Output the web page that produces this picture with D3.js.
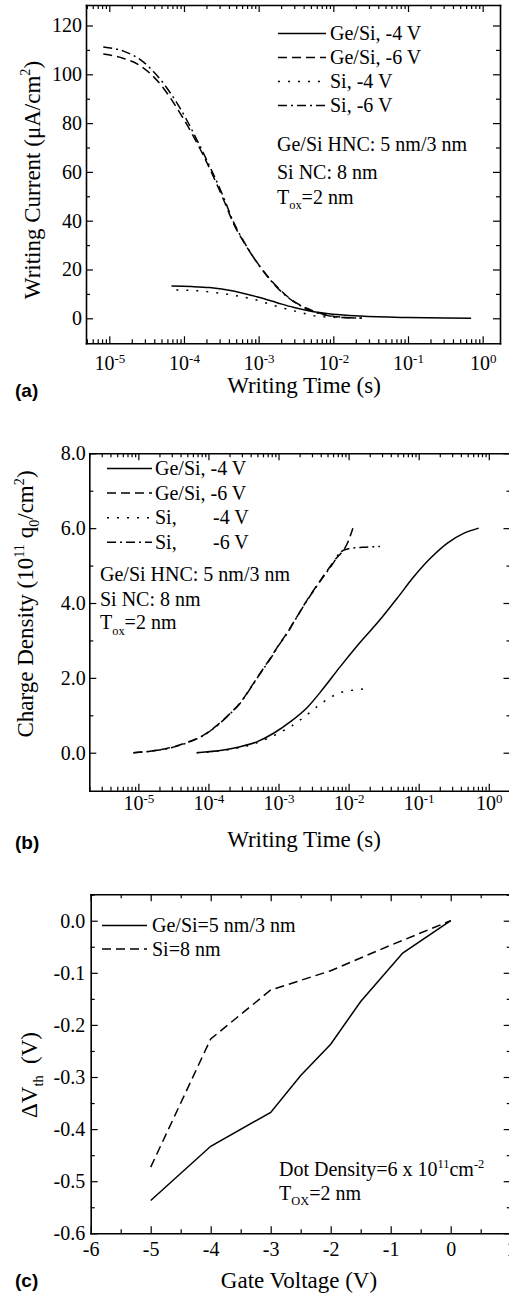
<!DOCTYPE html>
<html>
<head>
<meta charset="utf-8">
<script src="https://cdn.jsdelivr.net/npm/d3@7"></script>
<style>
body { margin: 0; background: #fff; }
svg text { font-family: "Liberation Serif", "Times New Roman", serif; fill: #000; white-space: pre; }
svg text.tag { font-family: "Liberation Sans", Arial, sans-serif; font-weight: bold; }
</style>
</head>
<body>
<script>
// ---- (a) writing current vs writing time
var aTimeGeSi4 = [6.8e-5, 1.25e-4, 2.2e-4, 4.6e-4, 1e-3, 1.8e-3, 2.9e-3, 5e-3, 8.1e-3, 2.3e-2, 1e-1, 3.2e-1, 7e-1];
var aCurGeSi4 = [13.2, 13.0, 12.6, 11.2, 8.6, 6.3, 4.5, 2.9, 2.0, 0.9, 0.3, 0.1, 0.05];
var aTimeSi4 = [7.9e-5, 1.8e-4, 3.9e-4, 8.5e-4, 1.8e-3, 4.1e-3, 5.9e-3, 1e-2, 1.5e-2];
var aCurSi4 = [11.6, 11.1, 9.8, 7.8, 4.8, 2.0, 0.9, 0.4, 0.3];
var aTime6 = [8.3e-6, 1.55e-5, 2.6e-5, 4.8e-5, 8.9e-5, 1.8e-4, 3.4e-4, 4.6e-4, 6.9e-4, 1.05e-3, 1.6e-3, 2.6e-3, 4.4e-3, 8.1e-3, 1.35e-2, 2.4e-2];
var aCurGeSi6 = [108.3, 106.5, 103.5, 96, 84, 67, 48.5, 38.9, 29.3, 21.1, 14.3, 8.2, 4.1, 1.4, 0.4, 0.1];
var aCurSi6 = [111.2, 109.5, 106, 98, 86, 68, 49.5, 39.5, 29.5, 21.0, 14.0, 8.0, 3.8, 1.2, 0.3, 0.1];
var aYMajor = [0, 20, 40, 60, 80, 100, 120];
var aYMinor = [10, 30, 50, 70, 90, 110];

// ---- (b) charge density vs writing time
var bTimeGeSi4 = [6.8e-5, 1.64e-4, 2.84e-4, 4.9e-4, 8.5e-4, 1.48e-3, 2.57e-3, 4.37e-3, 7.6e-3, 1.32e-2, 2.8e-2, 4.9e-2, 8.5e-2, 1.48e-1, 2.57e-1, 4.37e-1, 7.2e-1];
var bChgGeSi4 = [0, 0.07, 0.16, 0.29, 0.52, 0.83, 1.21, 1.72, 2.3, 2.85, 3.55, 4.12, 4.7, 5.2, 5.6, 5.86, 6.0];
var bTimeSi4 = [6.8e-5, 1.64e-4, 2.84e-4, 4.4e-4, 6.8e-4, 1e-3, 1.55e-3, 2.34e-3, 3.55e-3, 5.4e-3, 8.1e-3, 1.26e-2, 1.9e-2];
var bChgSi4 = [0, 0.06, 0.14, 0.23, 0.37, 0.52, 0.72, 0.96, 1.23, 1.47, 1.62, 1.68, 1.71];
var bTimeGeSi6 = [8.5e-6, 1.48e-5, 2.6e-5, 4.9e-5, 8.5e-5, 1.17e-4, 2.04e-4, 2.8e-4, 4.2e-4, 5.5e-4, 7.6e-4, 1e-3, 1.32e-3, 1.62e-3, 2.5e-3, 4e-3, 6.2e-3, 1e-2, 1.15e-2];
var bChgGeSi6 = [0, 0.04, 0.12, 0.27, 0.47, 0.65, 1.05, 1.32, 1.8, 2.13, 2.52, 2.87, 3.2, 3.47, 4.05, 4.62, 5.12, 5.67, 6.0];
var bTimeSi6 = [8.5e-6, 1.48e-5, 2.6e-5, 4.9e-5, 8.5e-5, 1.17e-4, 2.04e-4, 2.8e-4, 4.2e-4, 5.5e-4, 7.6e-4, 1e-3, 1.32e-3, 1.62e-3, 2.5e-3, 4e-3, 6.2e-3, 7.6e-3, 1e-2, 1.6e-2, 2.8e-2];
var bChgSi6 = [0, 0.04, 0.11, 0.26, 0.46, 0.64, 1.04, 1.31, 1.79, 2.12, 2.5, 2.86, 3.18, 3.46, 4.04, 4.6, 5.1, 5.36, 5.45, 5.49, 5.51];
var bYMajor = [0, 2, 4, 6, 8];
var bYMinor = [1, 3, 5, 7];

// ---- (c) threshold shift vs gate voltage
var cVoltGeSi = [-5, -4, -3, -2.5, -2, -1.5, -0.8, 0];
var cShiftGeSi = [-0.537, -0.433, -0.368, -0.297, -0.237, -0.155, -0.062, 0];
var cVoltSi = [-5, -4, -3, -2, -1, 0];
var cShiftSi = [-0.473, -0.227, -0.133, -0.096, -0.047, 0];
var cXMajor = [-6, -5, -4, -3, -2, -1, 0, 1];
var cXMinor = [-5.5, -4.5, -3.5, -2.5, -1.5, -0.5, 0.5];
var cYMajor = [0, -0.1, -0.2, -0.3, -0.4, -0.5, -0.6];
var cYMinor = [0.05, -0.05, -0.15, -0.25, -0.35, -0.45, -0.55];

var timeMajor = [1e-5, 1e-4, 1e-3, 1e-2, 1e-1, 1];

// line styles
var dashes = { solid: null, dash: "9,5", dot: "2,8", dashdot: "9,4,2,4" };

var svg = d3.select("body").append("svg")
	.attr("width", 509)
	.attr("height", 1294);
svg.append("rect").attr("width", 509).attr("height", 1294).attr("fill", "#fff");

function logMinor(x) {
	var d = x.domain(), out = [];
	for (var e = -7; e <= 1; e++) {
		for (var m = 2; m <= 9; m++) {
			var v = m * Math.pow(10, e);
			if (v > d[0] && v < d[1]) out.push(v);
		}
	}
	return out;
}

function minus(s) { return String(s).replace("\u2212", "-"); }

// draw a 4-sided frame with inward ticks
function frame(x, y, o) {
	var xr = x.range(), yr = y.range();
	var sides = [
		[d3.axisBottom(x), "translate(0," + yr[0] + ")", o.xMajor, o.xMinor, o.xFmt, o.xPad],
		[d3.axisTop(x), "translate(0," + yr[1] + ")", o.xMajor, o.xMinor, null],
		[d3.axisLeft(y), "translate(" + xr[0] + ",0)", o.yMajor, o.yMinor, o.yFmt, o.yPad],
		[d3.axisRight(y), "translate(" + xr[1] + ",0)", o.yMajor, o.yMinor, null]
	];
	var labelled = [];
	sides.forEach(function (s) {
		var gMin = svg.append("g").attr("transform", s[1])
			.call(s[0].tickValues(s[3]).tickSize(-4).tickSizeOuter(0).tickFormat(""));
		gMin.selectAll("line").attr("stroke-width", 1.2);
		gMin.select(".domain").remove();
		var gen = s[0].tickValues(s[2]).tickSize(-7).tickSizeOuter(0)
			.tickFormat(s[4] || "").tickPadding(s[5] || 3);
		var g = svg.append("g").attr("transform", s[1]).call(gen);
		g.attr("font-family", null).attr("font-size", 20);
		g.selectAll("line").attr("stroke-width", 1.2);
		g.select(".domain").attr("stroke-width", 1.6).attr("stroke-linecap", "square");
		labelled.push(g);
	});
	return labelled;
}

function powLabels(g) {
	g.selectAll(".tick text").each(function (d) {
		d3.select(this).append("tspan")
			.attr("dy", "-0.55em")
			.attr("font-size", 13)
			.text(minus(Math.round(Math.log10(d))));
	});
}

// text with sub/superscripts: parts = [[string, "sup"|"sub"|null], ...]
function rich(t, parts, size) {
	var cur = 0;
	parts.forEach(function (p) {
		var target = p[1] === "sup" ? -size * 0.4 : p[1] === "sub" ? size * 0.28 : 0;
		var ts = t.append("tspan").attr("dy", target - cur).text(p[0]);
		if (p[1]) ts.attr("font-size", size * 0.62);
		cur = target;
	});
	return t;
}

function txt(x, y, size) {
	return svg.append("text").attr("x", x).attr("y", y).attr("font-size", size);
}

function curve(x, y, xs, ys, style, smooth) {
	var pts = xs.map(function (v, i) { return [v, ys[i]]; });
	var line = d3.line()
		.x(function (d) { return x(d[0]); })
		.y(function (d) { return y(d[1]); })
		.curve(smooth ? d3.curveMonotoneX : d3.curveLinear);
	svg.append("path")
		.attr("d", line(pts))
		.attr("fill", "none")
		.attr("stroke", "#000")
		.attr("stroke-width", 1.5)
		.attr("stroke-dasharray", dashes[style]);
}

function legendRow(x0, x1, yLine, style) {
	svg.append("line")
		.attr("x1", x0).attr("x2", x1).attr("y1", yLine).attr("y2", yLine)
		.attr("stroke", "#000").attr("stroke-width", 1.5)
		.attr("stroke-dasharray", dashes[style]);
}

function yTitle(cx, cy, parts, size) {
	var t = svg.append("text")
		.attr("transform", "translate(" + cx + "," + cy + ") rotate(-90)")
		.attr("text-anchor", "middle")
		.attr("font-size", size);
	rich(t, parts, size);
}

/* ================= panel (a) ================= */
var xa = d3.scaleLog().domain([Math.pow(10, -5.312), Math.pow(10, 0.232)]).range([86, 500]);
var ya = d3.scaleLinear().domain([-10.25, 128.4]).range([343.3, 5]);
var fa = frame(xa, ya, {
	xMajor: timeMajor, xMinor: logMinor(xa), xFmt: function () { return "10"; }, xPad: 13,
	yMajor: aYMajor, yMinor: aYMinor, yFmt: d3.format("d"), yPad: 4
});
powLabels(fa[0]);

curve(xa, ya, aTime6, aCurGeSi6, "dash", true);
curve(xa, ya, aTime6, aCurSi6, "dashdot", true);
curve(xa, ya, aTimeGeSi4, aCurGeSi4, "solid", true);
curve(xa, ya, aTimeSi4, aCurSi4, "dot", true);

var aLegend = ["Ge/Si, -4 V", "Ge/Si, -6 V", "Si, -4 V", "Si, -6 V"];
var legendStyles = ["solid", "dash", "dot", "dashdot"];
aLegend.forEach(function (s, i) {
	var base = 40 + i * 24;
	legendRow(278, 326, base - 6.5, legendStyles[i]);
	txt(330, base, 20).text(s);
});
txt(277, 151, 20).text("Ge/Si HNC: 5 nm/3 nm");
txt(277, 178.5, 20).text("Si NC: 8 nm");
rich(txt(277, 203.5, 20), [["T", null], ["ox", "sub"], ["=2 nm", null]], 20);

txt(304, 393.3, 23).attr("text-anchor", "middle").text("Writing Time (s)");
yTitle(39.5, 180, [["Writing Current (\u03bcA/cm", null], ["2", "sup"], [")", null]], 23);
txt(15, 397, 19).attr("class", "tag").text("(a)");

/* ================= panel (b) ================= */
var xb = d3.scaleLog().domain([Math.pow(10, -5.7), Math.pow(10, 0.31)]).range([89.3, 510.5]);
var yb = d3.scaleLinear().domain([-1.015, 8]).range([790.7, 453.3]);
var fb = frame(xb, yb, {
	xMajor: timeMajor, xMinor: logMinor(xb), xFmt: function () { return "10"; }, xPad: 5,
	yMajor: bYMajor, yMinor: bYMinor, yFmt: d3.format(".1f"), yPad: 3.5
});
powLabels(fb[0]);

curve(xb, yb, bTimeGeSi6, bChgGeSi6, "dash", true);
curve(xb, yb, bTimeSi6, bChgSi6, "dashdot", true);
curve(xb, yb, bTimeGeSi4, bChgGeSi4, "solid", true);
curve(xb, yb, bTimeSi4, bChgSi4, "dot", true);

var bLegendLeft = ["Ge/Si, -4 V", "Ge/Si, -6 V", "Si,", "Si,"];
var bLegendRight = ["", "", "-4 V", "-6 V"];
bLegendLeft.forEach(function (s, i) {
	var base = 475 + i * 24.6;
	legendRow(107, 152, base - 6.5, legendStyles[i]);
	txt(155, base, 20).text(s);
	if (bLegendRight[i]) txt(213, base, 20).text(bLegendRight[i]);
});
txt(100, 581, 20).text("Ge/Si HNC: 5 nm/3 nm");
txt(100, 605.5, 20).text("Si NC: 8 nm");
rich(txt(100, 629, 20), [["T", null], ["ox", "sub"], ["=2 nm", null]], 20);

txt(304, 847, 23).attr("text-anchor", "middle").text("Writing Time (s)");
yTitle(33, 604, [["Charge Density (10", null], ["11", "sup"], [" q", null], ["0", "sub"], ["/cm", null], ["2", "sup"], [")", null]], 23);
txt(15, 849, 19).attr("class", "tag").text("(b)");

/* ================= panel (c) ================= */
var xc = d3.scaleLinear().domain([-6, 1]).range([90.7, 510.7]);
var yc = d3.scaleLinear().domain([-0.6, 0.0507]).range([1233.3, 894.3]);
frame(xc, yc, {
	xMajor: cXMajor, xMinor: cXMinor, xFmt: function (d) { return minus(d3.format("d")(d)); }, xPad: 9,
	yMajor: cYMajor, yMinor: cYMinor, yFmt: function (d) { return minus(d3.format(".1f")(d)); }, yPad: 5.5
});

curve(xc, yc, cVoltSi, cShiftSi, "dash", false);
curve(xc, yc, cVoltGeSi, cShiftGeSi, "solid", false);

var cLegend = ["Ge/Si=5 nm/3 nm", "Si=8 nm"];
var cStyles = ["solid", "dash"];
cLegend.forEach(function (s, i) {
	var base = 932 + i * 23.5;
	legendRow(102, 147, base - 6.5, cStyles[i]);
	txt(152, base, 20).text(s);
});
rich(txt(279, 1175.5, 20), [["Dot Density=6 x 10", null], ["11", "sup"], ["cm", null], ["-2", "sup"]], 20);
rich(txt(279, 1199.5, 20), [["T", null], ["OX", "sub"], ["=2 nm", null]], 20);

txt(299, 1288, 23).attr("text-anchor", "middle").text("Gate Voltage (V)");
yTitle(36.5, 1075, [["\u0394V", null], ["th", "sub"], ["  (V)", null]], 23);
txt(15, 1287, 19).attr("class", "tag").text("(c)");
</script>
</body>
</html>
